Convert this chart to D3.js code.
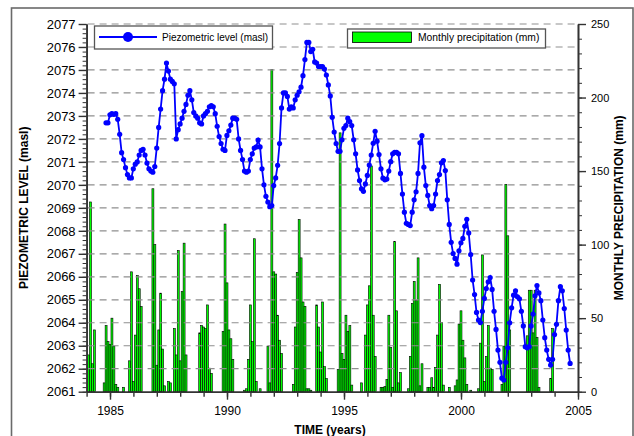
<!DOCTYPE html>
<html><head><meta charset="utf-8">
<script src="https://cdn.jsdelivr.net/npm/d3@7"></script>
<style>
body{margin:0;background:#fff}
svg{display:block}
text{font-family:Arial,"Liberation Sans",Helvetica,sans-serif}
</style>
</head><body>
<svg id="chart" width="634" height="436"></svg>
<script>
// ---------------- data ----------------
// Piezometric level (masl), monthly readings starting at this decimal year
const piezoStart = 1984.83;
const piezoLevel = [
2072.7,2072.7,2073.05,2073.1,2073.07,2073.1,2072.85,2072.2,2071.4,2071.1,
2070.75,2070.45,2070.3,2070.3,2070.7,2070.9,2071.0,2071.3,2071.5,2071.55,
2071.3,2070.95,2070.7,2070.6,2070.55,2070.8,2071.6,2072.5,2073.3,2074.1,
2074.6,2075.3,2074.95,2074.6,2074.5,2074.4,2072.0,2072.4,2072.65,2072.9,
2073.2,2073.5,2073.9,2074.1,2073.7,2073.15,2073.0,2072.9,2072.7,2072.65,
2073.0,2073.1,2073.2,2073.4,2073.45,2073.4,2073.1,2072.55,2072.1,2071.8,
2071.55,2071.5,2072.15,2072.35,2072.6,2072.9,2072.9,2072.85,2072.0,2071.5,
2071.1,2070.6,2070.55,2070.6,2071.1,2071.35,2071.6,2071.65,2071.95,2071.65,
2070.7,2070.0,2069.5,2069.25,2069.05,2069.1,2069.97,2070.3,2070.85,2071.8,
2073.35,2074.0,2074.0,2073.85,2073.3,2073.4,2073.35,2073.7,2073.9,2074.05,
2074.25,2074.75,2075.45,2076.2,2076.2,2075.8,2075.9,2075.35,2075.3,2075.15,
2075.15,2075.15,2075.04,2074.78,2074.35,2073.87,2072.94,2072.3,2071.8,2071.46,
2071.46,2071.96,2072.46,2072.58,2072.9,2072.75,2072.58,2071.96,2071.35,2070.65,
2070.19,2069.83,2069.72,2070.04,2070.41,2070.86,2071.3,2071.81,2072.33,2071.9,
2071.32,2070.7,2070.29,2070.22,2070.25,2070.6,2071.01,2071.35,2071.42,2071.42,
2071.35,2070.5,2069.6,2068.81,2068.33,2068.28,2068.23,2068.81,2069.35,2069.7,
2070.5,2071.83,2072.14,2070.77,2069.97,2069.54,2069.1,2068.96,2069.1,2069.6,
2070.19,2070.45,2070.96,2071.06,2070.62,2069.35,2068.28,2067.5,2067.01,2066.8,
2066.55,2067.13,2067.48,2067.67,2068.2,2068.5,2067.91,2066.97,2065.86,2065.23,
2064.45,2064.12,2064.01,2064.5,2065.06,2065.49,2065.78,2065.97,2065.45,2064.5,
2063.71,2062.81,2062.28,2061.59,2061.51,2062.28,2062.91,2064.0,2064.65,2065.2,
2065.39,2065.13,2065.04,2064.5,2063.86,2062.96,2062.91,2062.96,2063.86,2064.38,
2065.17,2065.62,2065.3,2064.96,2064.12,2063.35,2062.81,2062.41,2062.16,2062.41,
2063.49,2063.93,2064.96,2065.57,2065.39,2064.62,2063.68,2062.81,2062.23
];

// Monthly precipitation (mm), one bar per month starting at this decimal year
const precipStart = 1984 + 1/12;
const precipMonthly = [
25,129,19,42,0,0,0,0,6,45,34,32,50,31,5,3,0,0,3,0,
0,21,81.5,7,38.5,79,70,58,0,0,0,0,0,138,100,18,42,67,29,4,
0,7,6,0,43,25,96,21,68,101,25,0,0,0,0,0,0,40,45,44,
43,59,16,12.5,0,0,0,0,0,41,114,74,42,36,22,0,0,0,0,0,
1,2,22,59,34,104,7,0,2,0,0,0,31,6,219,81.5,80,52,35,26,
0,0,0,0,0,5,44,81,117,91,61,58,2,2,1,0,0,59,44,27,
61,17,9,0,0,0,0,0,15,176,26,22,52,41,45,4.5,0,0,0,0,
6,0,38.5,59,72,153.5,52,24,0,0,3,3,3.4,8.4,52,30,3,102,55,6,
13,0,0,0,2,24,60,75,62,91,4,19,0,0,3,3,9.5,3,16.5,38.5,
73,47,4.5,0,0,3,0,0,4,8,46,55,35,23,5,0,1,0,0,0,
2,33,93,7,24,45,16,15,0,0,0,0,5,31,141,106,42,0,0,0,
0,0,0,0,0,38,69,69,40,69,37,3,0,0,0,0,0,9,43,0
];

const yearTicks = [1985, 1990, 1995, 2000, 2005];
const levelTicks = d3.range(2061, 2078, 1);
const precipTicks = [0, 50, 100, 150, 200, 250];

// ---------------- layout ----------------
const svg = d3.select("#chart");
const L = 86.6, R = 578, T = 24, B = 391.7;

const x = d3.scaleLinear().domain([1984, 2005]).range([L, R]);
const yL = d3.scaleLinear().domain([2061, 2077]).range([B, T]);
const yR = d3.scaleLinear().domain([0, 250]).range([B, T]);

const axisColor = "#333";

// outer frame
svg.append("rect").attr("x", 11.5).attr("y", 8).attr("width", 621.5).attr("height", 460)
  .attr("fill", "#fff").attr("stroke", "#6a6a6a").attr("stroke-width", 1.6);

// bars
const monthW = x(1984 + 1/12) - x(1984);
const precipData = precipMonthly.map((v, i) => ({t: precipStart + i / 12, v}));
svg.append("g").selectAll("rect").data(precipData.filter(d => d.v > 0)).join("rect")
  .attr("x", d => x(d.t) - monthW / 2)
  .attr("width", monthW)
  .attr("y", d => yR(d.v))
  .attr("height", d => yR(0) - yR(d.v))
  .attr("fill", "#00ff00")
  .attr("stroke", "#000")
  .attr("stroke-width", 0.6);

// grid lines
svg.append("g").selectAll("line").data(levelTicks.filter(v => v > 2061)).join("line")
  .attr("x1", L + 1).attr("x2", R)
  .attr("y1", d => yL(d)).attr("y2", d => yL(d))
  .attr("stroke", "#8f8f8f").attr("stroke-width", 1.2)
  .attr("stroke-dasharray", "7,5");

// axes
function styleAxis(g) {
  g.select(".domain").attr("stroke", axisColor).attr("stroke-width", 1.6);
  g.selectAll(".tick line").attr("stroke", axisColor).attr("stroke-width", 1.4);
  g.selectAll(".tick text").attr("fill", "#000");
}

// left axis
const gl = svg.append("g").attr("transform", `translate(${L},0)`)
  .call(d3.axisLeft(yL).tickValues(d3.range(2061, 2077.01, 0.2)).tickSize(4).tickFormat("").tickSizeOuter(0));
styleAxis(gl);
gl.selectAll(".tick line").attr("stroke-width", 1);
const gl2 = svg.append("g").attr("transform", `translate(${L},0)`)
  .call(d3.axisLeft(yL).tickValues(levelTicks).tickSize(8).tickPadding(3).tickFormat(d3.format("d")).tickSizeOuter(0));
styleAxis(gl2);
gl2.selectAll(".tick text").attr("font-size", 13).attr("font-family", "Arial, 'Liberation Sans', sans-serif");

// right axis
const gr = svg.append("g").attr("transform", `translate(${R},0)`)
  .call(d3.axisRight(yR).tickValues(d3.range(0, 251, 10)).tickSize(4).tickFormat("").tickSizeOuter(0));
styleAxis(gr);
gr.selectAll(".tick line").attr("stroke-width", 1);
const gr2 = svg.append("g").attr("transform", `translate(${R},0)`)
  .call(d3.axisRight(yR).tickValues(precipTicks).tickSize(8).tickPadding(5).tickSizeOuter(0));
styleAxis(gr2);
gr2.selectAll(".tick text").attr("font-size", 11).attr("font-family", "Arial, 'Liberation Sans', sans-serif");

// bottom axis
const gb = svg.append("g").attr("transform", `translate(0,${B})`)
  .call(d3.axisBottom(x).tickValues(d3.range(1984, 2006, 1)).tickSize(5).tickFormat("").tickSizeOuter(0));
styleAxis(gb);
const gb2 = svg.append("g").attr("transform", `translate(0,${B})`)
  .call(d3.axisBottom(x).tickValues(yearTicks).tickSize(8).tickPadding(7).tickFormat(d3.format("d")).tickSizeOuter(0));
styleAxis(gb2);
gb2.selectAll(".tick text").attr("font-size", 12).attr("font-family", "Arial, 'Liberation Sans', sans-serif");

// piezometric line
const piezoData = piezoLevel.map((v, i) => ({t: piezoStart + i / 12, v}));
svg.append("path").datum(piezoData)
  .attr("fill", "none").attr("stroke", "#0000ff").attr("stroke-width", 1.8)
  .attr("d", d3.line().x(d => x(d.t)).y(d => yL(d.v)));
svg.append("g").selectAll("circle").data(piezoData).join("circle")
  .attr("cx", d => x(d.t)).attr("cy", d => yL(d.v)).attr("r", 2.6)
  .attr("fill", "#0000ff");

// axis titles
svg.append("text").attr("transform", `translate(25,${(T + B) / 2}) rotate(-90)`)
  .attr("text-anchor", "middle").attr("dominant-baseline", "middle")
  .attr("font-size", 12).attr("font-weight", "bold").text("PIEZOMETRIC LEVEL (masl)");
svg.append("text").attr("transform", `translate(620,${(T + B) / 2}) rotate(-90)`)
  .attr("text-anchor", "middle").attr("dominant-baseline", "middle")
  .attr("font-size", 12).attr("font-weight", "bold").text("MONTHLY PRECIPITATION (mm)");
svg.append("text").attr("x", 330).attr("y", 434)
  .attr("text-anchor", "middle")
  .attr("font-size", 12).attr("font-weight", "bold").text("TIME (years)");

// legends
const lg1 = svg.append("g");
lg1.append("rect").attr("x", 94.5).attr("y", 26).attr("width", 178).attr("height", 23)
  .attr("fill", "#fff").attr("stroke", "#555").attr("stroke-width", 1.3);
lg1.append("line").attr("x1", 99).attr("x2", 157).attr("y1", 37).attr("y2", 37)
  .attr("stroke", "#0000ff").attr("stroke-width", 1.8);
lg1.append("circle").attr("cx", 128).attr("cy", 37).attr("r", 5).attr("fill", "#0000ff");
lg1.append("text").attr("x", 162).attr("y", 41).attr("font-size", 10).text("Piezometric level (masl)");

const lg2 = svg.append("g");
lg2.append("rect").attr("x", 347.5).attr("y", 29).attr("width", 198).attr("height", 19)
  .attr("fill", "#fff").attr("stroke", "#555").attr("stroke-width", 1.3);
lg2.append("rect").attr("x", 352.5).attr("y", 32).attr("width", 59).attr("height", 10.5)
  .attr("fill", "#00ff00").attr("stroke", "#000").attr("stroke-width", 0.8);
lg2.append("text").attr("x", 418).attr("y", 41).attr("font-size", 10.3).text("Monthly precipitation (mm)");
</script>
</body></html>
